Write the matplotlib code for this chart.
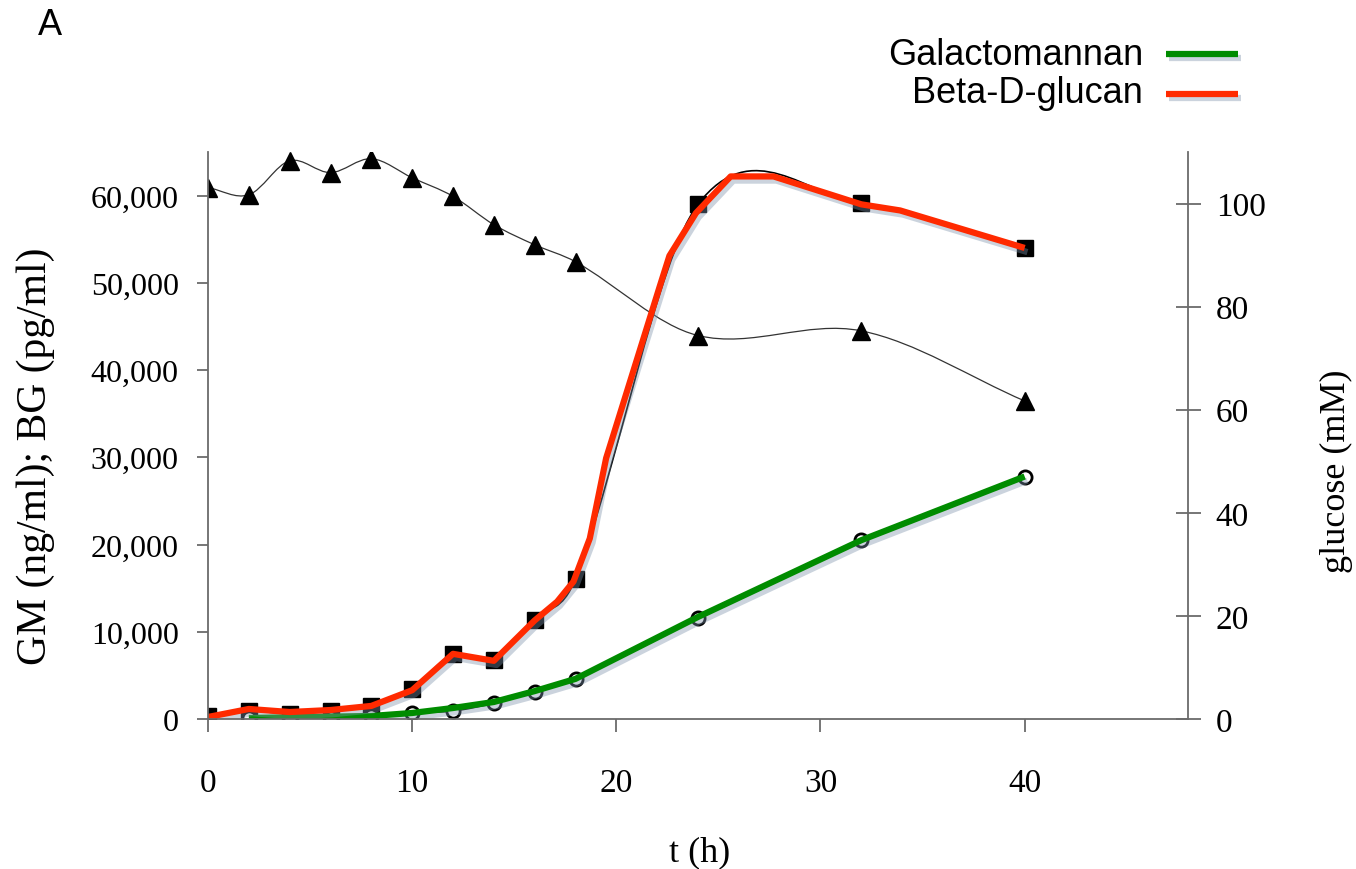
import numpy as np
import matplotlib.pyplot as plt
import matplotlib.patheffects as pe
from matplotlib.path import Path
from matplotlib.patches import PathPatch
from matplotlib.lines import Line2D

# Values

t_glc = [0, 2, 4, 6, 8, 10, 12, 14, 16, 18, 24, 32, 40]
glucose = [103.1, 101.7, 108.3, 106.0, 108.7, 105.0, 101.4, 95.9, 92.0, 88.7, 74.4, 75.3, 61.7]

t_bg = [0, 2, 4, 6, 8, 10, 12, 14, 16, 18, 24, 32, 40]
bg = [350, 920, 600, 920, 1500, 3450, 7400, 6800, 11400, 16100, 59000, 59100, 54000]

t_gm = [2, 4, 6, 8, 10, 12, 14, 16, 18, 24, 32, 40]
gm = [100, 100, 100, 350, 700, 900, 1800, 3100, 4600, 11600, 20500, 27700]

# coloured overlay traces (they have their own kinks, read separately)
t_red = [0, 2, 4, 6, 8, 10, 12, 14, 16, 17.1, 17.9, 18.7, 19.5, 22.1, 22.6, 23.9, 25.6, 27.7, 32, 33.9, 40]
red = [230, 1150, 800, 1030, 1500, 3300, 7470, 6670, 11300, 13450, 15750, 20700, 29900,
       49400, 53100, 58000, 62200, 62200, 59000, 58300, 54000]
t_green = [2, 8, 10, 12, 14, 16, 18, 24, 32, 40]
green = [115, 345, 690, 1260, 1950, 3200, 4600, 11700, 20500, 27800]

left_ticks = [0, 10000, 20000, 30000, 40000, 50000, 60000]
right_ticks = [0, 20, 40, 60, 80, 100]
x_ticks = [0, 10, 20, 30, 40]

RED = '#ff2a00'
GREEN = '#008c00'
AXC = '#6b6b6b'
SERIF = 'Liberation Serif'


def smooth_path(x, y):
    # smoothed line through the points: cubic bezier pieces, slope = centred secant
    x = np.asarray(x, float)
    y = np.asarray(y, float)
    n = len(x)
    m = np.zeros(n)
    m[0] = (y[1] - y[0]) / (x[1] - x[0])
    m[-1] = (y[-1] - y[-2]) / (x[-1] - x[-2])
    m[1:-1] = (y[2:] - y[:-2]) / (x[2:] - x[:-2])
    verts = [(x[0], y[0])]
    codes = [Path.MOVETO]
    for i in range(n - 1):
        h = (x[i + 1] - x[i]) / 3
        verts += [(x[i] + h, y[i] + m[i] * h), (x[i + 1] - h, y[i + 1] - m[i + 1] * h), (x[i + 1], y[i + 1])]
        codes += [Path.CURVE4] * 3
    return Path(verts, codes)


shadow = [pe.SimpleLineShadow(offset=(2, -3), shadow_color='#7d93ab', alpha=0.4), pe.Normal()]

fig = plt.figure(figsize=(13.56, 8.7), dpi=100)
ax = fig.add_axes([208 / 1356, 150 / 870, 980 / 1356, 567 / 870])
ax2 = ax.twinx()
ax.set_zorder(ax2.get_zorder() + 1)
ax.patch.set_visible(False)

# glucose on right axis
ax2.add_patch(PathPatch(smooth_path(t_glc, glucose), fill=False, edgecolor='#333333', lw=0.9))
ax2.plot(t_glc, glucose, linestyle='none', marker='^', ms=13, color='black')

# GM and BG on left axis
ax.add_patch(PathPatch(smooth_path(t_bg, bg), fill=False, edgecolor='black', lw=1.2))
ax.add_patch(PathPatch(smooth_path(t_gm, gm), fill=False, edgecolor='black', lw=1.0))
ax.plot(t_bg, bg, linestyle='none', marker='s', ms=11, color='black')
ax.plot(t_gm, gm, linestyle='none', marker='o', ms=9.5, mfc='white', mec='black', mew=2)
ax.plot(t_green, green, color=GREEN, lw=4.5, solid_capstyle='butt', path_effects=shadow)
ax.plot(t_red, red, color=RED, lw=4.5, solid_capstyle='butt', path_effects=shadow)

ax.set_xlim(0, 48)
ax.set_ylim(0, 65000)
ax2.set_ylim(0, 110)

for a in (ax, ax2):
    a.spines['top'].set_visible(False)
    for s in a.spines.values():
        s.set_color(AXC)
        s.set_linewidth(1.3)
ax.spines['right'].set_visible(False)
ax2.spines['left'].set_visible(False)
ax2.spines['bottom'].set_visible(False)

ax.set_xticks(x_ticks)
ax.set_xticklabels([str(v) for v in x_ticks], fontsize=24, family=SERIF)
ax.set_yticks(left_ticks)
ax.set_yticklabels(['{:,}'.format(v) for v in left_ticks], fontsize=23, family=SERIF)
ax2.set_yticks(right_ticks)
ax2.set_yticklabels([str(v) for v in right_ticks], fontsize=24, family=SERIF)

ax.tick_params(axis='x', direction='out', length=9, width=1.3, color=AXC, pad=26)
ax.tick_params(axis='y', direction='out', length=8, width=1.3, color=AXC, pad=13)
ax2.tick_params(axis='y', direction='inout', length=18, width=1.3, color=AXC, pad=11)

# axis titles
fig.text(36 / 1356, 1 - 456 / 870, 'GM (ng/ml); BG (pg/ml)', rotation=90, ha='center', va='center',
         fontsize=30, family=SERIF)
fig.text(1336 / 1356, 1 - 471 / 870, 'glucose (mM)', rotation=90, ha='center', va='center',
         fontsize=26, family=SERIF)
fig.text(700 / 1356, 1 - 853 / 870, 't (h)', ha='center', va='center', fontsize=26, family=SERIF)

# panel letter and legend
fig.text(38 / 1356, 1 - 35 / 870, 'A', ha='left', va='baseline', fontsize=26, family='Liberation Sans')
fig.text(1143 / 1356, 1 - 65 / 870, 'Galactomannan', ha='right', va='baseline', fontsize=26,
         family='Liberation Sans')
fig.text(1143 / 1356, 1 - 103 / 870, 'Beta-D-glucan', ha='right', va='baseline', fontsize=26,
         family='Liberation Sans')
fig.add_artist(Line2D([1166 / 1356, 1238 / 1356], [1 - 55 / 870] * 2, transform=fig.transFigure,
                      color=GREEN, lw=4.5, solid_capstyle='butt', path_effects=shadow))
fig.add_artist(Line2D([1166 / 1356, 1238 / 1356], [1 - 95 / 870] * 2, transform=fig.transFigure,
                      color=RED, lw=4.5, solid_capstyle='butt', path_effects=shadow))

fig.savefig('out.png', dpi=100)
